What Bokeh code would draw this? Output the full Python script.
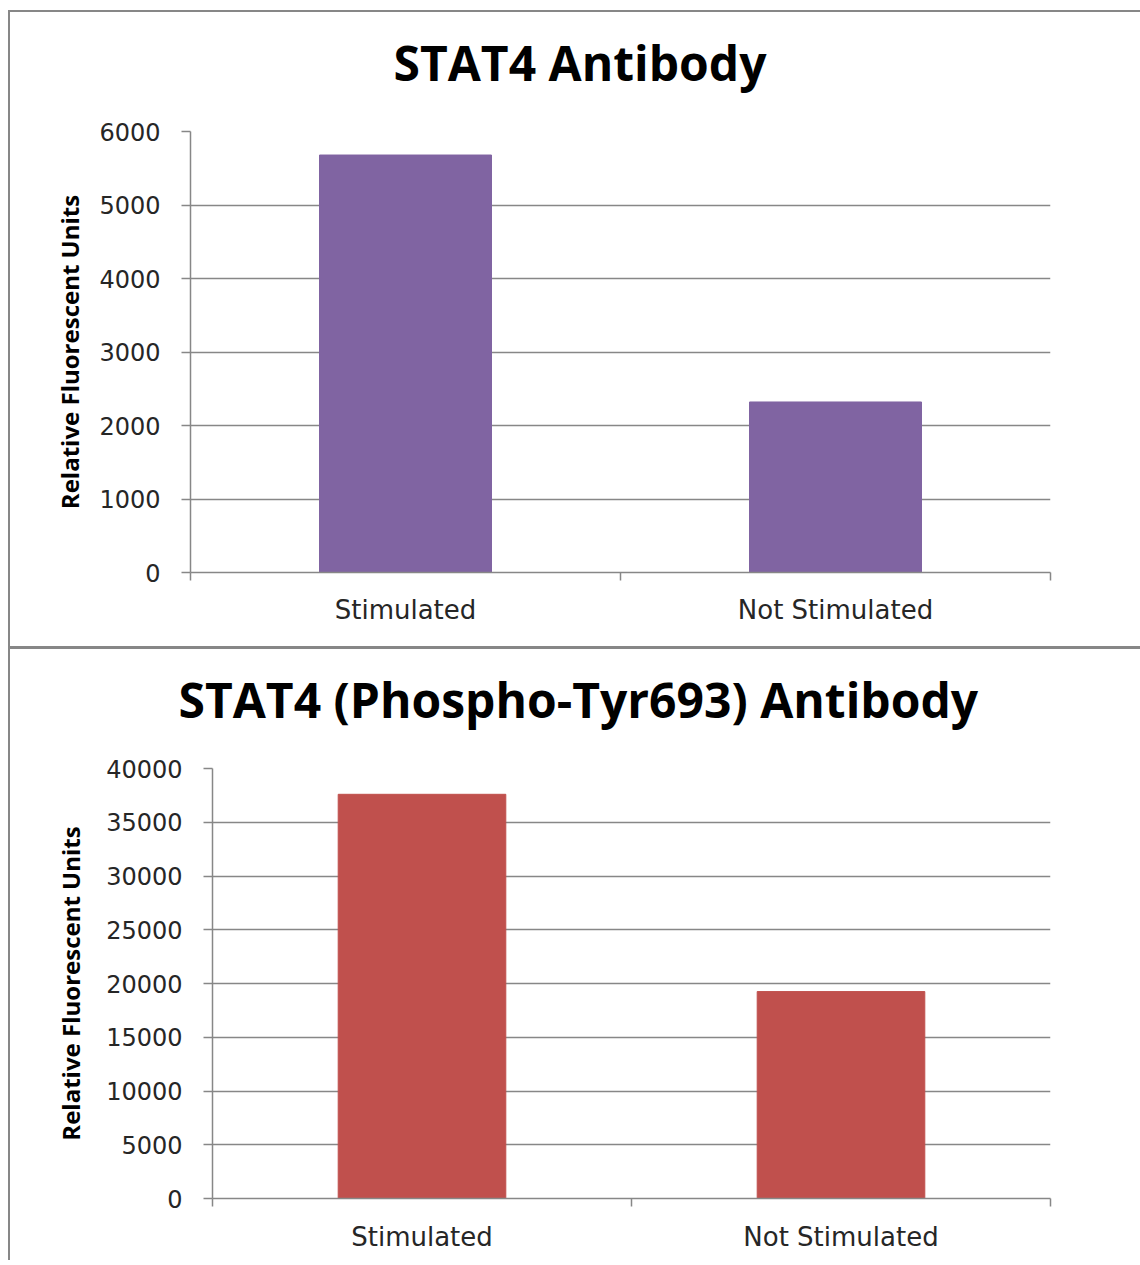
from bokeh.plotting import figure
from bokeh.models import FixedTicker, Range1d, Title
from bokeh.layouts import column
from bokeh.embed import file_html
from bokeh.resources import INLINE

# ---- data ----
categories = ["Stimulated", "Not Stimulated"]
stat4_values = [5680, 2320]
phospho_values = [37600, 19250]
stat4_ticks = [0, 1000, 2000, 3000, 4000, 5000, 6000]
phospho_ticks = [0, 5000, 10000, 15000, 20000, 25000, 30000, 35000, 40000]
titles = ["STAT4 Antibody", "STAT4 (Phospho-Tyr693) Antibody"]
y_label = "Relative Fluorescent Units"

GRAY = "#878787"
TEXT = "#262626"


def make_chart(title, values, ticks, color, left, frame_w, frame_h, bottom,
               title_dx, label_standoff, cat_standoff):
    xs = [i + 0.5 for i in range(len(categories))]
    p = figure(output_backend="svg", toolbar_location=None,
               x_range=Range1d(0, len(categories)),
               y_range=Range1d(ticks[0], ticks[-1]),
               frame_width=frame_w, frame_height=frame_h,
               min_border_left=left, min_border_right=90,
               min_border_top=10, min_border_bottom=bottom)
    p.title = Title(text=title, align="left", offset=title_dx, vertical_align="bottom",
                    standoff=73, text_font="Open Sans",
                    text_font_size="48px", text_font_style="bold",
                    text_color="#000000")
    p.vbar(x=xs, top=values, width=0.4, color=color)

    xa = p.xaxis[0]
    xa.ticker = FixedTicker(ticks=xs, minor_ticks=list(range(len(categories) + 1)))
    xa.major_label_overrides = {x: c for x, c in zip(xs, categories)}
    xa.major_tick_line_color = None
    xa.major_tick_out = 0
    xa.major_tick_in = 0
    xa.minor_tick_out = 8
    xa.minor_tick_in = 0
    xa.minor_tick_line_color = GRAY
    xa.minor_tick_line_width = 1.5
    xa.axis_line_color = GRAY
    xa.axis_line_width = 1.5
    xa.major_label_standoff = cat_standoff
    xa.major_label_text_font = "DejaVu Sans"
    xa.major_label_text_font_size = "26px"
    xa.major_label_text_color = TEXT

    ya = p.yaxis[0]
    ya.ticker = FixedTicker(ticks=ticks)
    ya.major_tick_out = 9
    ya.major_tick_in = 0
    ya.minor_tick_line_color = None
    ya.major_tick_line_color = GRAY
    ya.major_tick_line_width = 1.5
    ya.axis_line_color = GRAY
    ya.axis_line_width = 1.5
    ya.major_label_standoff = 21
    ya.major_label_text_font = "DejaVu Sans"
    ya.major_label_text_font_size = "24px"
    ya.major_label_text_color = TEXT
    ya.axis_label = y_label
    ya.axis_label_text_font = "Open Sans"
    ya.axis_label_text_font_style = "bold"
    ya.axis_label_text_font_size = "24px"
    ya.axis_label_text_color = "#000000"
    ya.axis_label_standoff = label_standoff

    p.xgrid.grid_line_color = None
    p.ygrid.ticker = FixedTicker(ticks=ticks)
    p.ygrid.grid_line_color = GRAY
    p.ygrid.grid_line_width = 1.5
    p.outline_line_color = None
    p.background_fill_color = "white"
    p.border_fill_color = None
    # pull the canvas up so the title sits close to the chart's top border
    p.margin = (-21, 0, 0, 0)
    return p


p1 = make_chart(titles[0], stat4_values, stat4_ticks, "#8064A2",
                left=180, frame_w=860, frame_h=441, bottom=74,
                title_dx=203, label_standoff=10, cat_standoff=14)
p2 = make_chart(titles[1], phospho_values, phospho_ticks, "#C0504D",
                left=202, frame_w=838, frame_h=430, bottom=62,
                title_dx=-34, label_standoff=16, cat_standoff=15)

box1 = column(p1, styles={"border-left": "2px solid " + GRAY,
                          "border-top": "2px solid " + GRAY,
                          "border-bottom": "3px solid " + GRAY})
box2 = column(p2, styles={"border-left": "2px solid " + GRAY})

layout = column(box1, box2, spacing=0,
                styles={"margin-left": "8px", "margin-top": "10px"})
open("out.html", "w").write(file_html(layout, INLINE))
